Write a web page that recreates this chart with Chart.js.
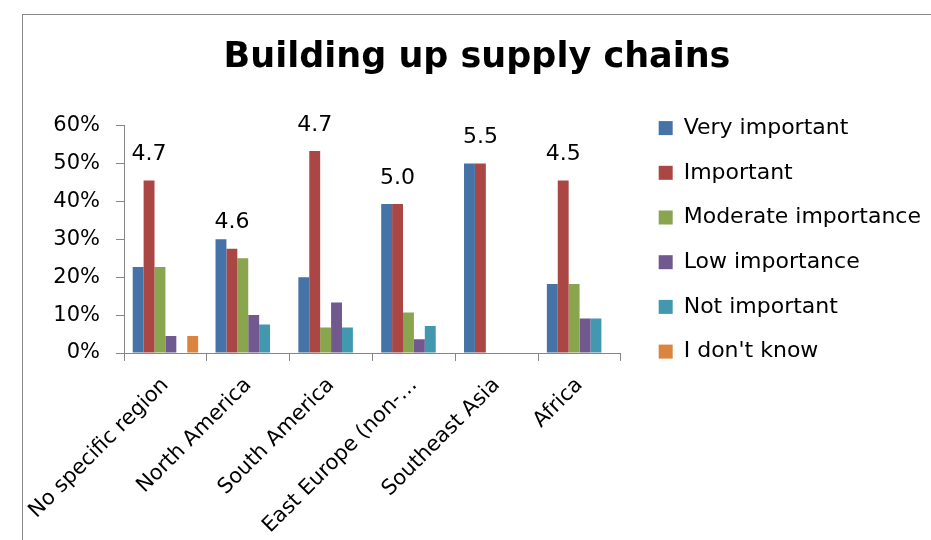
<!DOCTYPE html>
<html>
<head>
<meta charset="utf-8">
<title>Building up supply chains</title>
<script src="https://cdn.jsdelivr.net/npm/chart.js@4.4.1/dist/chart.umd.min.js"></script>
<style>
  html, body { margin: 0; padding: 0; background: #fff; overflow: hidden; }
  #frame {
    position: absolute; left: 22px; top: 14px;
    width: 908px; height: 525px;
    border-left: 1px solid #898989; border-top: 1px solid #898989;
  }
</style>
</head>
<body>
<div id="frame"><canvas id="chart" width="908" height="525"></canvas></div>
<script>
// categories (regions) and the share of answers per importance level, in %
const regions = ['No specific region', 'North America', 'South America', 'East Europe (non-\u2026', 'Southeast Asia', 'Africa'];
const veryImportant = [22.7, 30.0, 20.0, 39.3, 50.0, 18.2];
const important = [45.5, 27.5, 53.3, 39.3, 50.0, 45.5];
const moderateImportance = [22.7, 25.0, 6.7, 10.7, null, 18.2];
const lowImportance = [4.5, 10.0, 13.3, 3.6, null, 9.1];
const notImportant = [null, 7.5, 6.7, 7.1, null, 9.1];
const dontKnow = [4.5, null, null, null, null, null];
// average score shown above each group
const averageScores = ['4.7', '4.6', '4.7', '5.0', '5.5', '4.5'];
const yTickMax = 60;
const yTickStep = 10;

const font = 'DejaVu Sans';
const axisGrey = '#868686';

// writes the average score above the "Important" bar of each group
const scoreLabels = {
  id: 'scoreLabels',
  afterDatasetsDraw(chart) {
    const ctx = chart.ctx;
    const meta = chart.getDatasetMeta(1);
    ctx.save();
    ctx.font = '22px "' + font + '"';
    ctx.fillStyle = '#000';
    ctx.textAlign = 'center';
    ctx.textBaseline = 'middle';
    meta.data.forEach((bar, i) => {
      ctx.fillText(averageScores[i], bar.x, bar.y - 26);
    });
    ctx.restore();
  }
};

new Chart(document.getElementById('chart'), {
  type: 'bar',
  data: {
    labels: regions,
    datasets: [
      { label: 'Very important', data: veryImportant, backgroundColor: '#4572A7' },
      { label: 'Important', data: important, backgroundColor: '#AA4643' },
      { label: 'Moderate importance', data: moderateImportance, backgroundColor: '#89A54E' },
      { label: 'Low importance', data: lowImportance, backgroundColor: '#71588F' },
      { label: 'Not important', data: notImportant, backgroundColor: '#4198AF' },
      { label: "I don't know", data: dontKnow, backgroundColor: '#DB843D' }
    ]
  },
  options: {
    responsive: false,
    animation: false,
    datasets: {
      bar: { barPercentage: 1, categoryPercentage: 0.79 }
    },
    layout: { padding: 0 },
    plugins: {
      title: {
        display: true,
        text: 'Building up supply chains',
        color: '#000',
        font: { family: font, size: 35, weight: 'bold', lineHeight: 1.2 },
        padding: { top: 22, bottom: 46.5 }
      },
      legend: {
        position: 'right',
        align: 'start',
        fullSize: true,
        maxWidth: 330,
        // empty title, only pushes the items down
        title: { display: true, text: '', font: { size: 12, lineHeight: 1.2 }, padding: { top: 65, bottom: 0 } },
        labels: {
          color: '#000',
          font: { family: font, size: 22 },
          boxWidth: 14,
          boxHeight: 14,
          padding: 22.7
        }
      },
      tooltip: { enabled: false }
    },
    scales: {
      x: {
        grid: { display: true, drawOnChartArea: false, offset: true, tickLength: 8, color: axisGrey },
        border: { color: axisGrey },
        ticks: {
          color: '#000',
          font: { family: font, size: 21 },
          minRotation: 45,
          maxRotation: 45,
          autoSkip: false,
          padding: 12
        },
        afterFit: s => {
          s.height = 187;
          s.paddingLeft = 0;
          s.paddingRight = 0;
        }
      },
      y: {
        min: 0,
        max: yTickMax,
        grid: { display: true, drawOnChartArea: false, tickLength: 8, color: axisGrey },
        border: { color: axisGrey },
        ticks: {
          stepSize: yTickStep,
          color: '#000',
          font: { family: font, size: 21 },
          padding: 16,
          callback: v => v + '%'
        },
        afterFit: s => { s.width = 101; }
      },
      // empty axis, only keeps a gap between plot and legend
      gap: {
        position: 'right',
        grid: { display: false },
        border: { display: false },
        ticks: { display: false },
        afterFit: s => { s.width = 15; }
      }
    }
  },
  plugins: [scoreLabels]
});
</script>
</body>
</html>
